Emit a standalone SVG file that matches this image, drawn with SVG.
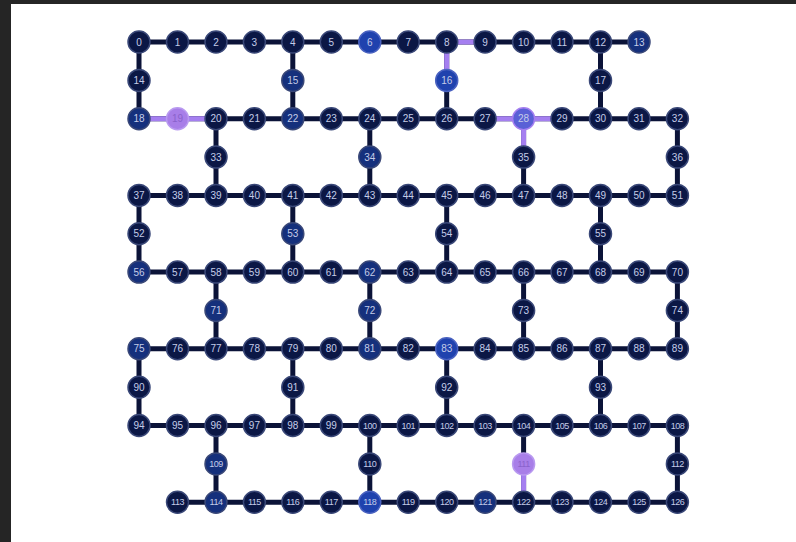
<svg xmlns="http://www.w3.org/2000/svg" width="796" height="542" viewBox="0 0 796 542">
<style>
.e{stroke:#0b1338;stroke-width:5;fill:none}
.p{stroke:#a57ff0;stroke-width:5;fill:none}
circle{fill:#0b1745;stroke:#3a4878;stroke-width:1.5}
.m circle{fill:#15307c}
.b circle{fill:#1f42ae;stroke:#4a62c0}
.v circle{fill:#a87ee8;stroke:#b99af0}
.w circle{fill:#5a60d6;stroke:#a57ff0}
text{font-family:"Liberation Sans",Arial,sans-serif;font-size:10px;fill:#c4cce8;text-anchor:middle;dominant-baseline:central}
.v text{fill:#8a62cc}
.s text{font-size:9px;letter-spacing:-0.5px}
</style>
<rect width="796" height="542" fill="#ffffff"/>
<rect width="796" height="4" fill="#252525"/>
<rect width="11" height="542" fill="#252525"/>
<g id="connectors">
<path class="e" d="M139 42H639M139 118.7H677.4M139 195.4H677.4M139 272.1H677.4M139 348.8H677.4M139 425.5H677.4M177.5 502.2H677.4"/>
<path class="e" d="M139 42V118.7M292.8 42V118.7M446.7 42V118.7M600.5 42V118.7M216 118.7V195.4M369.8 118.7V195.4M523.6 118.7V195.4M677.4 118.7V195.4M139 195.4V272.1M292.8 195.4V272.1M446.7 195.4V272.1M600.5 195.4V272.1M216 272.1V348.8M369.8 272.1V348.8M523.6 272.1V348.8M677.4 272.1V348.8M139 348.8V425.5M292.8 348.8V425.5M446.7 348.8V425.5M600.5 348.8V425.5M216 425.5V502.2M369.8 425.5V502.2M523.6 425.5V502.2M677.4 425.5V502.2"/>
<path class="p" d="M446.7 42H485.1M446.7 42V80.4M139 118.7H216M485.1 118.7H562M523.6 118.7V157.1M523.6 463.9V502.2"/>
</g>
<g id="nodes">
<g id="q0"><circle cx="139" cy="42" r="11"/><text x="139" y="42">0</text></g>
<g id="q1"><circle cx="177.5" cy="42" r="11"/><text x="177.5" y="42">1</text></g>
<g id="q2"><circle cx="216" cy="42" r="11"/><text x="216" y="42">2</text></g>
<g id="q3"><circle cx="254.4" cy="42" r="11"/><text x="254.4" y="42">3</text></g>
<g id="q4"><circle cx="292.8" cy="42" r="11"/><text x="292.8" y="42">4</text></g>
<g id="q5"><circle cx="331.3" cy="42" r="11"/><text x="331.3" y="42">5</text></g>
<g id="q6" class="b"><circle cx="369.8" cy="42" r="11"/><text x="369.8" y="42">6</text></g>
<g id="q7"><circle cx="408.2" cy="42" r="11"/><text x="408.2" y="42">7</text></g>
<g id="q8"><circle cx="446.7" cy="42" r="11"/><text x="446.7" y="42">8</text></g>
<g id="q9"><circle cx="485.1" cy="42" r="11"/><text x="485.1" y="42">9</text></g>
<g id="q10"><circle cx="523.6" cy="42" r="11"/><text x="523.6" y="42">10</text></g>
<g id="q11"><circle cx="562" cy="42" r="11"/><text x="562" y="42">11</text></g>
<g id="q12"><circle cx="600.5" cy="42" r="11"/><text x="600.5" y="42">12</text></g>
<g id="q13" class="m"><circle cx="639" cy="42" r="11"/><text x="639" y="42">13</text></g>
<g id="q14"><circle cx="139" cy="80.4" r="11"/><text x="139" y="80.4">14</text></g>
<g id="q15" class="m"><circle cx="292.8" cy="80.4" r="11"/><text x="292.8" y="80.4">15</text></g>
<g id="q16" class="b"><circle cx="446.7" cy="80.4" r="11"/><text x="446.7" y="80.4">16</text></g>
<g id="q17"><circle cx="600.5" cy="80.4" r="11"/><text x="600.5" y="80.4">17</text></g>
<g id="q18" class="m"><circle cx="139" cy="118.7" r="11"/><text x="139" y="118.7">18</text></g>
<g id="q19" class="v"><circle cx="177.5" cy="118.7" r="11"/><text x="177.5" y="118.7">19</text></g>
<g id="q20"><circle cx="216" cy="118.7" r="11"/><text x="216" y="118.7">20</text></g>
<g id="q21"><circle cx="254.4" cy="118.7" r="11"/><text x="254.4" y="118.7">21</text></g>
<g id="q22" class="m"><circle cx="292.8" cy="118.7" r="11"/><text x="292.8" y="118.7">22</text></g>
<g id="q23"><circle cx="331.3" cy="118.7" r="11"/><text x="331.3" y="118.7">23</text></g>
<g id="q24"><circle cx="369.8" cy="118.7" r="11"/><text x="369.8" y="118.7">24</text></g>
<g id="q25"><circle cx="408.2" cy="118.7" r="11"/><text x="408.2" y="118.7">25</text></g>
<g id="q26"><circle cx="446.7" cy="118.7" r="11"/><text x="446.7" y="118.7">26</text></g>
<g id="q27"><circle cx="485.1" cy="118.7" r="11"/><text x="485.1" y="118.7">27</text></g>
<g id="q28" class="w"><circle cx="523.6" cy="118.7" r="11"/><text x="523.6" y="118.7">28</text></g>
<g id="q29"><circle cx="562" cy="118.7" r="11"/><text x="562" y="118.7">29</text></g>
<g id="q30"><circle cx="600.5" cy="118.7" r="11"/><text x="600.5" y="118.7">30</text></g>
<g id="q31"><circle cx="639" cy="118.7" r="11"/><text x="639" y="118.7">31</text></g>
<g id="q32"><circle cx="677.4" cy="118.7" r="11"/><text x="677.4" y="118.7">32</text></g>
<g id="q33"><circle cx="216" cy="157.1" r="11"/><text x="216" y="157.1">33</text></g>
<g id="q34" class="m"><circle cx="369.8" cy="157.1" r="11"/><text x="369.8" y="157.1">34</text></g>
<g id="q35"><circle cx="523.6" cy="157.1" r="11"/><text x="523.6" y="157.1">35</text></g>
<g id="q36"><circle cx="677.4" cy="157.1" r="11"/><text x="677.4" y="157.1">36</text></g>
<g id="q37"><circle cx="139" cy="195.4" r="11"/><text x="139" y="195.4">37</text></g>
<g id="q38"><circle cx="177.5" cy="195.4" r="11"/><text x="177.5" y="195.4">38</text></g>
<g id="q39"><circle cx="216" cy="195.4" r="11"/><text x="216" y="195.4">39</text></g>
<g id="q40"><circle cx="254.4" cy="195.4" r="11"/><text x="254.4" y="195.4">40</text></g>
<g id="q41"><circle cx="292.8" cy="195.4" r="11"/><text x="292.8" y="195.4">41</text></g>
<g id="q42"><circle cx="331.3" cy="195.4" r="11"/><text x="331.3" y="195.4">42</text></g>
<g id="q43"><circle cx="369.8" cy="195.4" r="11"/><text x="369.8" y="195.4">43</text></g>
<g id="q44"><circle cx="408.2" cy="195.4" r="11"/><text x="408.2" y="195.4">44</text></g>
<g id="q45"><circle cx="446.7" cy="195.4" r="11"/><text x="446.7" y="195.4">45</text></g>
<g id="q46"><circle cx="485.1" cy="195.4" r="11"/><text x="485.1" y="195.4">46</text></g>
<g id="q47"><circle cx="523.6" cy="195.4" r="11"/><text x="523.6" y="195.4">47</text></g>
<g id="q48"><circle cx="562" cy="195.4" r="11"/><text x="562" y="195.4">48</text></g>
<g id="q49"><circle cx="600.5" cy="195.4" r="11"/><text x="600.5" y="195.4">49</text></g>
<g id="q50"><circle cx="639" cy="195.4" r="11"/><text x="639" y="195.4">50</text></g>
<g id="q51"><circle cx="677.4" cy="195.4" r="11"/><text x="677.4" y="195.4">51</text></g>
<g id="q52"><circle cx="139" cy="233.8" r="11"/><text x="139" y="233.8">52</text></g>
<g id="q53" class="m"><circle cx="292.8" cy="233.8" r="11"/><text x="292.8" y="233.8">53</text></g>
<g id="q54"><circle cx="446.7" cy="233.8" r="11"/><text x="446.7" y="233.8">54</text></g>
<g id="q55"><circle cx="600.5" cy="233.8" r="11"/><text x="600.5" y="233.8">55</text></g>
<g id="q56" class="m"><circle cx="139" cy="272.1" r="11"/><text x="139" y="272.1">56</text></g>
<g id="q57"><circle cx="177.5" cy="272.1" r="11"/><text x="177.5" y="272.1">57</text></g>
<g id="q58"><circle cx="216" cy="272.1" r="11"/><text x="216" y="272.1">58</text></g>
<g id="q59"><circle cx="254.4" cy="272.1" r="11"/><text x="254.4" y="272.1">59</text></g>
<g id="q60"><circle cx="292.8" cy="272.1" r="11"/><text x="292.8" y="272.1">60</text></g>
<g id="q61"><circle cx="331.3" cy="272.1" r="11"/><text x="331.3" y="272.1">61</text></g>
<g id="q62" class="m"><circle cx="369.8" cy="272.1" r="11"/><text x="369.8" y="272.1">62</text></g>
<g id="q63"><circle cx="408.2" cy="272.1" r="11"/><text x="408.2" y="272.1">63</text></g>
<g id="q64"><circle cx="446.7" cy="272.1" r="11"/><text x="446.7" y="272.1">64</text></g>
<g id="q65"><circle cx="485.1" cy="272.1" r="11"/><text x="485.1" y="272.1">65</text></g>
<g id="q66"><circle cx="523.6" cy="272.1" r="11"/><text x="523.6" y="272.1">66</text></g>
<g id="q67"><circle cx="562" cy="272.1" r="11"/><text x="562" y="272.1">67</text></g>
<g id="q68"><circle cx="600.5" cy="272.1" r="11"/><text x="600.5" y="272.1">68</text></g>
<g id="q69"><circle cx="639" cy="272.1" r="11"/><text x="639" y="272.1">69</text></g>
<g id="q70"><circle cx="677.4" cy="272.1" r="11"/><text x="677.4" y="272.1">70</text></g>
<g id="q71" class="m"><circle cx="216" cy="310.5" r="11"/><text x="216" y="310.5">71</text></g>
<g id="q72" class="m"><circle cx="369.8" cy="310.5" r="11"/><text x="369.8" y="310.5">72</text></g>
<g id="q73"><circle cx="523.6" cy="310.5" r="11"/><text x="523.6" y="310.5">73</text></g>
<g id="q74"><circle cx="677.4" cy="310.5" r="11"/><text x="677.4" y="310.5">74</text></g>
<g id="q75" class="m"><circle cx="139" cy="348.8" r="11"/><text x="139" y="348.8">75</text></g>
<g id="q76"><circle cx="177.5" cy="348.8" r="11"/><text x="177.5" y="348.8">76</text></g>
<g id="q77"><circle cx="216" cy="348.8" r="11"/><text x="216" y="348.8">77</text></g>
<g id="q78"><circle cx="254.4" cy="348.8" r="11"/><text x="254.4" y="348.8">78</text></g>
<g id="q79"><circle cx="292.8" cy="348.8" r="11"/><text x="292.8" y="348.8">79</text></g>
<g id="q80"><circle cx="331.3" cy="348.8" r="11"/><text x="331.3" y="348.8">80</text></g>
<g id="q81" class="m"><circle cx="369.8" cy="348.8" r="11"/><text x="369.8" y="348.8">81</text></g>
<g id="q82"><circle cx="408.2" cy="348.8" r="11"/><text x="408.2" y="348.8">82</text></g>
<g id="q83" class="b"><circle cx="446.7" cy="348.8" r="11"/><text x="446.7" y="348.8">83</text></g>
<g id="q84"><circle cx="485.1" cy="348.8" r="11"/><text x="485.1" y="348.8">84</text></g>
<g id="q85"><circle cx="523.6" cy="348.8" r="11"/><text x="523.6" y="348.8">85</text></g>
<g id="q86"><circle cx="562" cy="348.8" r="11"/><text x="562" y="348.8">86</text></g>
<g id="q87"><circle cx="600.5" cy="348.8" r="11"/><text x="600.5" y="348.8">87</text></g>
<g id="q88"><circle cx="639" cy="348.8" r="11"/><text x="639" y="348.8">88</text></g>
<g id="q89"><circle cx="677.4" cy="348.8" r="11"/><text x="677.4" y="348.8">89</text></g>
<g id="q90"><circle cx="139" cy="387.2" r="11"/><text x="139" y="387.2">90</text></g>
<g id="q91"><circle cx="292.8" cy="387.2" r="11"/><text x="292.8" y="387.2">91</text></g>
<g id="q92"><circle cx="446.7" cy="387.2" r="11"/><text x="446.7" y="387.2">92</text></g>
<g id="q93"><circle cx="600.5" cy="387.2" r="11"/><text x="600.5" y="387.2">93</text></g>
<g id="q94"><circle cx="139" cy="425.5" r="11"/><text x="139" y="425.5">94</text></g>
<g id="q95"><circle cx="177.5" cy="425.5" r="11"/><text x="177.5" y="425.5">95</text></g>
<g id="q96"><circle cx="216" cy="425.5" r="11"/><text x="216" y="425.5">96</text></g>
<g id="q97"><circle cx="254.4" cy="425.5" r="11"/><text x="254.4" y="425.5">97</text></g>
<g id="q98"><circle cx="292.8" cy="425.5" r="11"/><text x="292.8" y="425.5">98</text></g>
<g id="q99"><circle cx="331.3" cy="425.5" r="11"/><text x="331.3" y="425.5">99</text></g>
<g id="q100" class="s"><circle cx="369.8" cy="425.5" r="11"/><text x="369.8" y="425.5">100</text></g>
<g id="q101" class="s"><circle cx="408.2" cy="425.5" r="11"/><text x="408.2" y="425.5">101</text></g>
<g id="q102" class="s"><circle cx="446.7" cy="425.5" r="11"/><text x="446.7" y="425.5">102</text></g>
<g id="q103" class="s"><circle cx="485.1" cy="425.5" r="11"/><text x="485.1" y="425.5">103</text></g>
<g id="q104" class="s"><circle cx="523.6" cy="425.5" r="11"/><text x="523.6" y="425.5">104</text></g>
<g id="q105" class="s"><circle cx="562" cy="425.5" r="11"/><text x="562" y="425.5">105</text></g>
<g id="q106" class="s"><circle cx="600.5" cy="425.5" r="11"/><text x="600.5" y="425.5">106</text></g>
<g id="q107" class="s"><circle cx="639" cy="425.5" r="11"/><text x="639" y="425.5">107</text></g>
<g id="q108" class="s"><circle cx="677.4" cy="425.5" r="11"/><text x="677.4" y="425.5">108</text></g>
<g id="q109" class="s m"><circle cx="216" cy="463.9" r="11"/><text x="216" y="463.9">109</text></g>
<g id="q110" class="s"><circle cx="369.8" cy="463.9" r="11"/><text x="369.8" y="463.9">110</text></g>
<g id="q111" class="s v"><circle cx="523.6" cy="463.9" r="11"/><text x="523.6" y="463.9">111</text></g>
<g id="q112" class="s"><circle cx="677.4" cy="463.9" r="11"/><text x="677.4" y="463.9">112</text></g>
<g id="q113" class="s"><circle cx="177.5" cy="502.2" r="11"/><text x="177.5" y="502.2">113</text></g>
<g id="q114" class="s m"><circle cx="216" cy="502.2" r="11"/><text x="216" y="502.2">114</text></g>
<g id="q115" class="s"><circle cx="254.4" cy="502.2" r="11"/><text x="254.4" y="502.2">115</text></g>
<g id="q116" class="s"><circle cx="292.8" cy="502.2" r="11"/><text x="292.8" y="502.2">116</text></g>
<g id="q117" class="s"><circle cx="331.3" cy="502.2" r="11"/><text x="331.3" y="502.2">117</text></g>
<g id="q118" class="s b"><circle cx="369.8" cy="502.2" r="11"/><text x="369.8" y="502.2">118</text></g>
<g id="q119" class="s"><circle cx="408.2" cy="502.2" r="11"/><text x="408.2" y="502.2">119</text></g>
<g id="q120" class="s"><circle cx="446.7" cy="502.2" r="11"/><text x="446.7" y="502.2">120</text></g>
<g id="q121" class="s m"><circle cx="485.1" cy="502.2" r="11"/><text x="485.1" y="502.2">121</text></g>
<g id="q122" class="s"><circle cx="523.6" cy="502.2" r="11"/><text x="523.6" y="502.2">122</text></g>
<g id="q123" class="s"><circle cx="562" cy="502.2" r="11"/><text x="562" y="502.2">123</text></g>
<g id="q124" class="s"><circle cx="600.5" cy="502.2" r="11"/><text x="600.5" y="502.2">124</text></g>
<g id="q125" class="s"><circle cx="639" cy="502.2" r="11"/><text x="639" y="502.2">125</text></g>
<g id="q126" class="s"><circle cx="677.4" cy="502.2" r="11"/><text x="677.4" y="502.2">126</text></g>
</g>
</svg>
